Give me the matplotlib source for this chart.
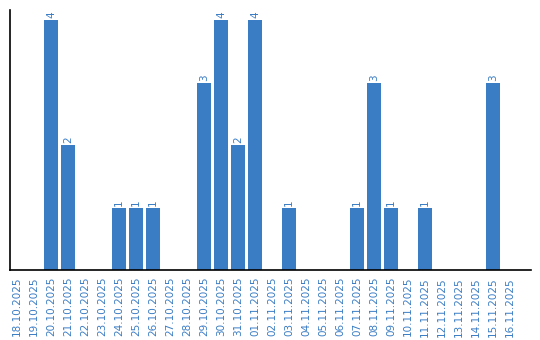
import matplotlib
matplotlib.use("Agg")
import matplotlib.pyplot as plt

dates = ["18.10.2025", "19.10.2025", "20.10.2025", "21.10.2025", "22.10.2025", "23.10.2025",
         "24.10.2025", "25.10.2025", "26.10.2025", "27.10.2025", "28.10.2025", "29.10.2025",
         "30.10.2025", "31.10.2025", "01.11.2025", "02.11.2025", "03.11.2025", "04.11.2025",
         "05.11.2025", "06.11.2025", "07.11.2025", "08.11.2025", "09.11.2025", "10.11.2025",
         "11.11.2025", "12.11.2025", "13.11.2025", "14.11.2025", "15.11.2025", "16.11.2025"]
counts = [0, 0, 4, 2, 0, 0, 1, 1, 1, 0, 0, 3, 4, 2, 4, 0, 1, 0, 0, 0, 1, 3, 1, 0, 1, 0, 0, 0, 3, 0]

color = "#3b7dc4"
fig = plt.figure(figsize=(5.4, 3.4), dpi=100)
ax = fig.add_axes([10/540, 70/340, 521/540, 260/340])
x = list(range(len(dates)))
bars = ax.bar(x, counts, width=0.82, color=color)
for xi, v in zip(x, counts):
    if v > 0:
        ax.text(xi, v + 0.03, str(v), rotation=90, ha="center", va="bottom",
                color=color, fontsize=7.5, family="DejaVu Sans")
ax.set_xlim(-0.41, 30.24)
ax.set_ylim(0, 4.16)
ax.set_xticks(x)
ax.set_xticklabels(dates, rotation=90, color=color, fontsize=7.5, family="DejaVu Sans")
ax.tick_params(axis="x", length=0, pad=5)
ax.set_yticks([])
for s in ["top", "right"]:
    ax.spines[s].set_visible(False)
ax.spines["left"].set_linewidth(1.2)
ax.spines["bottom"].set_linewidth(1.2)
fig.savefig("out.png", dpi=100)
